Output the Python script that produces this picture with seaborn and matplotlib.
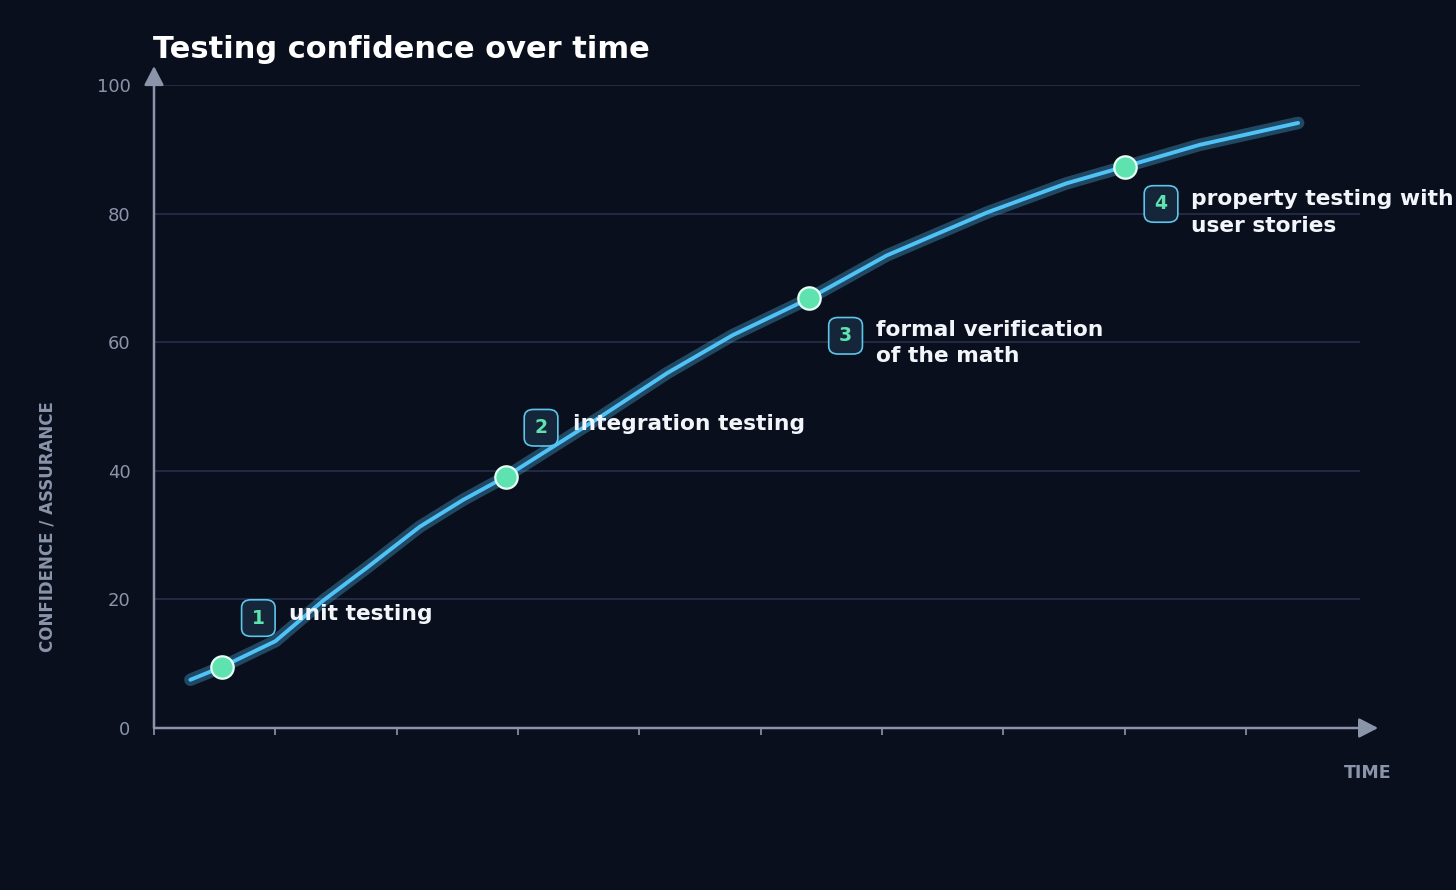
import matplotlib
matplotlib.use("Agg")
import matplotlib.pyplot as plt
import seaborn as sns
import pandas as pd

# curve (time in arbitrary units, confidence 0-100)
time = [0.30, 0.56, 1.00, 1.40, 1.76, 2.19, 2.55, 2.90, 3.68, 4.23, 4.77, 5.40, 6.04, 6.87, 7.52, 8.00, 8.62, 9.43]
confidence = [7.5, 9.5, 13.5, 19.9, 25.0, 31.3, 35.5, 39.1, 48.4, 55.2, 61.1, 66.8, 73.5, 80.2, 84.7, 87.3, 90.7, 94.1]

# milestones on the curve
stage_num = ["1", "2", "3", "4"]
stage_time = [0.56, 2.90, 5.40, 8.00]
stage_conf = [9.5, 39.1, 66.8, 87.3]
stage_label = ["unit testing", "integration testing",
               "formal verification\nof the math", "property testing with\nuser stories"]

# where the badges / captions sit
badge_x = [0.86, 3.19, 5.70, 8.30]
badge_y = [17.1, 46.7, 61.0, 81.5]
caption_x = [1.11, 3.45, 5.95, 8.55]
caption_y = [17.8, 47.3, 59.9, 80.2]

y_ticks = [0, 20, 40, 60, 80, 100]
x_ticks = list(range(10))

bg = "#0a0f1e"
grid_col = "#2a3250"
axis_col = "#8b95aa"
line_col = "#4fc3f7"
dot_col = "#5ee3b0"

sns.set_theme(style="dark")
plt.rcParams["font.family"] = ["DejaVu Sans"]

curve = pd.DataFrame({"time": time, "confidence": confidence})
stages = pd.DataFrame({"time": stage_time, "confidence": stage_conf})

fig = plt.figure(figsize=(14.56, 8.9), dpi=100, facecolor=bg)
ax = fig.add_axes([154 / 1456, 1 - 728 / 890, 1206 / 1456, 643 / 890])
ax.set_facecolor(bg)

# glow + core line
sns.lineplot(data=curve, x="time", y="confidence", ax=ax, color=line_col,
             lw=9, alpha=0.32, estimator=None, sort=False, zorder=3)
sns.lineplot(data=curve, x="time", y="confidence", ax=ax, color=line_col,
             lw=2.8, estimator=None, sort=False, zorder=4)
sns.scatterplot(data=stages, x="time", y="confidence", ax=ax, color=dot_col,
                s=260, edgecolor="#e6fff5", linewidth=1.6, zorder=6)

for num, bx, by, lab, cx, cy in zip(stage_num, badge_x, badge_y, stage_label, caption_x, caption_y):
    ax.text(bx, by, num, ha="center", va="center", fontsize=13.5, fontweight="bold",
            color=dot_col, zorder=7,
            bbox=dict(boxstyle="round,pad=0.55,rounding_size=0.5", fc="#15253a",
                      ec="#5cc6ea", lw=1.2, mutation_aspect=0.85))
    ax.text(cx, cy, lab, ha="left", va="center", fontsize=15.7, fontweight="bold",
            color="#f2f5fa", zorder=7, linespacing=1.4)

ax.set_xlim(0, 9.94)
ax.set_ylim(0, 100)
ax.set_xticks(x_ticks)
ax.set_xticklabels([])
ax.set_yticks(y_ticks)
ax.set_yticklabels([str(v) for v in y_ticks])
ax.set_xlabel("")
ax.set_ylabel("")

ax.grid(False)
for v in y_ticks[1:]:
    ax.axhline(v, color=grid_col, lw=1.1, zorder=1)

for s in ax.spines.values():
    s.set_visible(False)

ax.tick_params(axis="x", bottom=True, length=5, width=1.2, color=axis_col, direction="out")
ax.tick_params(axis="y", left=False, length=0, pad=17, labelsize=13, labelcolor=axis_col)

# axes with arrow heads
arrow = dict(arrowstyle="-|>,head_length=0.58,head_width=0.3", color=axis_col,
             lw=1.8, shrinkA=0, shrinkB=0, mutation_scale=20)
ax.annotate("", xy=(0, 1.0295), xytext=(0, 0), xycoords="axes fraction",
            textcoords="axes fraction", arrowprops=arrow, annotation_clip=False)
ax.annotate("", xy=(1.015, 0), xytext=(0, 0), xycoords="axes fraction",
            textcoords="axes fraction", arrowprops=arrow, annotation_clip=False)

ax.text(-0.0887, 0.3126, "CONFIDENCE / ASSURANCE", transform=ax.transAxes, rotation=90,
        ha="center", va="center", fontsize=12, fontweight="bold", color=axis_col)
ax.text(1.0066, -0.07, "TIME", transform=ax.transAxes, ha="center", va="center",
        fontsize=12.5, fontweight="bold", color=axis_col)

fig.text(153 / 1456, 1 - 58 / 890, "Testing confidence over time", ha="left",
         va="baseline", fontsize=22, fontweight="bold", color="white")

fig.savefig("out.png", dpi=100, facecolor=bg)
